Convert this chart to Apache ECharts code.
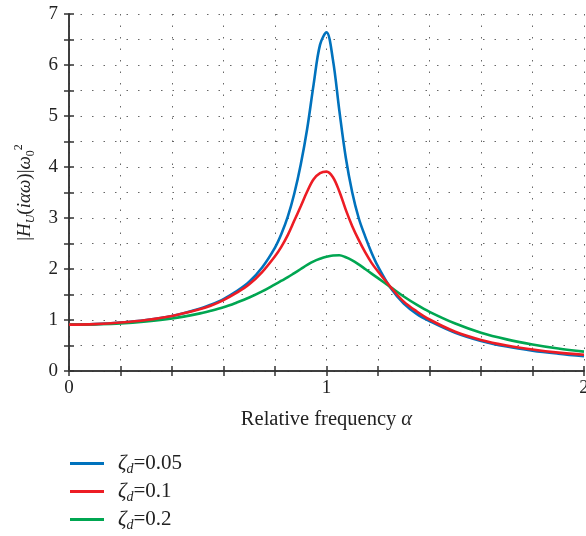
<!DOCTYPE html>
<html>
<head>
<meta charset="utf-8">
<script src="https://cdn.jsdelivr.net/npm/echarts@6/dist/echarts.min.js"></script>
<style>html,body{margin:0;padding:0;background:#fff;}#c{width:586px;height:536px;}</style>
</head>
<body>
<div id="c"></div>
<script>
const alpha = [0, 0.1, 0.2, 0.3, 0.4, 0.5, 0.55, 0.6, 0.65, 0.7, 0.75, 0.8, 0.825, 0.85, 0.875, 0.9, 0.925, 0.95, 0.975, 1.0, 1.025, 1.05, 1.075, 1.1, 1.125, 1.15, 1.175, 1.2, 1.25, 1.3, 1.35, 1.4, 1.5, 1.6, 1.7, 1.8, 1.9, 2.0];
const zeta005 = [0.91, 0.92, 0.95, 1.00, 1.08, 1.21, 1.30, 1.41, 1.56, 1.75, 2.03, 2.42, 2.69, 3.03, 3.48, 4.05, 4.75, 5.62, 6.40, 6.64, 6.10, 5.10, 4.18, 3.50, 3.00, 2.64, 2.32, 2.05, 1.62, 1.32, 1.12, 0.98, 0.75, 0.59, 0.48, 0.40, 0.34, 0.29];
const zeta01 = [0.91, 0.92, 0.95, 1.00, 1.08, 1.20, 1.28, 1.39, 1.53, 1.70, 1.94, 2.25, 2.44, 2.67, 2.95, 3.23, 3.52, 3.76, 3.88, 3.91, 3.80, 3.52, 3.16, 2.84, 2.57, 2.33, 2.12, 1.95, 1.64, 1.36, 1.17, 1.01, 0.77, 0.61, 0.50, 0.42, 0.36, 0.32];
const zeta02 = [0.91, 0.915, 0.93, 0.97, 1.03, 1.12, 1.18, 1.25, 1.34, 1.44, 1.56, 1.70, 1.77, 1.84, 1.92, 2.00, 2.08, 2.15, 2.20, 2.24, 2.265, 2.27, 2.23, 2.17, 2.09, 2.00, 1.91, 1.82, 1.64, 1.46, 1.30, 1.16, 0.93, 0.75, 0.62, 0.52, 0.44, 0.38];
const seriesNames = ['0.05', '0.1', '0.2'];
const seriesValues = [zeta005, zeta01, zeta02];
const colors = ['#0072BD', '#ED1C24', '#00A651'];
const xTickLabels = ['0', '1', '2'];
const yTickLabels = ['0', '1', '2', '3', '4', '5', '6', '7'];

const FONT = 'Liberation Serif';
const isInt = v => Math.abs(v - Math.round(v)) < 1e-6;
const axisLineStyle = {color: '#333', width: 1.5};
const splitStyle = {show: true, lineStyle: {color: '#666', type: [1.5, 10], width: 1}};

const series = seriesValues.map((vals, k) => ({
  name: seriesNames[k],
  type: 'line',
  data: alpha.map((a, i) => [a, vals[i]]),
  showSymbol: false,
  symbol: 'none',
  smooth: 0.35,
  lineStyle: {color: colors[k], width: 2.6},
  itemStyle: {color: colors[k]}
}));
series[0].z = 3; series[2].z = 4; series[1].z = 5;

const legendRich = {
  i: {fontFamily: FONT, fontStyle: 'italic', fontSize: 21, color: '#222'},
  sub: {fontFamily: FONT, fontStyle: 'italic', fontSize: 14, color: '#222', verticalAlign: 'bottom', lineHeight: 16},
  t: {fontFamily: FONT, fontSize: 21, color: '#222'}
};
const legends = seriesNames.map((n, k) => ({
  data: [n],
  left: 70,
  top: 451 + k * 28,
  padding: 0,
  icon: 'rect',
  itemWidth: 34,
  itemHeight: 3,
  formatter: name => '{i|ζ}{sub|d}{t|=' + name + '}',
  textStyle: {padding: [0, 0, 0, 9], rich: legendRich, lineHeight: 25}
}));

const chart = echarts.init(document.getElementById('c'), null, {renderer: 'canvas'});
chart.setOption({
  animation: false,
  backgroundColor: '#fff',
  color: colors,
  legend: legends,
  grid: {left: 69, right: 2, top: 14, bottom: 165, containLabel: false, outerBoundsMode: 'none'},
  xAxis: [{
    type: 'value', min: 0, max: 2, interval: 0.2,
    name: '{t|Relative frequency }{i|α}',
    nameLocation: 'middle', nameGap: 38,
    nameTextStyle: {rich: {
      t: {fontFamily: FONT, fontSize: 20.5, color: '#222'},
      i: {fontFamily: FONT, fontSize: 20.5, fontStyle: 'italic', color: '#222'}
    }},
    axisLine: {show: true, lineStyle: axisLineStyle},
    axisTick: {show: true, inside: true, length: 5, lineStyle: axisLineStyle},
    axisLabel: {
      fontFamily: FONT, fontSize: 19, color: '#222', margin: 8,
      formatter: v => isInt(v) ? xTickLabels[Math.round(v)] : ''
    },
    splitLine: splitStyle
  }, {
    type: 'value', min: 0, max: 2, interval: 0.2, position: 'top',
    axisLine: {show: true, lineStyle: axisLineStyle},
    axisTick: {show: true, inside: true, length: 5, lineStyle: axisLineStyle},
    axisLabel: {show: false}, splitLine: {show: false}
  }],
  yAxis: [{
    type: 'value', min: 0, max: 7, interval: 0.5,
    name: '|{i|H}{sub|U}{t|(}{i|iαω}{t|)|}{i|ω}{sub0|0}{sup|2}',
    nameLocation: 'middle', nameGap: 32,
    nameTextStyle: {fontFamily: FONT, fontSize: 19, color: '#222', lineHeight: 24, rich: {
      t: {fontFamily: FONT, fontSize: 19, color: '#222'},
      i: {fontFamily: FONT, fontSize: 19, fontStyle: 'italic', color: '#222'},
      sub: {fontFamily: FONT, fontSize: 12, fontStyle: 'italic', color: '#222', verticalAlign: 'bottom', lineHeight: 12},
      sub0: {fontFamily: FONT, fontSize: 12, color: '#222', verticalAlign: 'bottom', lineHeight: 12},
      sup: {fontFamily: FONT, fontSize: 12, color: '#222', verticalAlign: 'top', lineHeight: 12}
    }},
    axisLine: {show: true, lineStyle: axisLineStyle},
    axisTick: {show: true, inside: true, length: 5, lineStyle: axisLineStyle},
    axisLabel: {
      fontFamily: FONT, fontSize: 19, color: '#222', margin: 11,
      formatter: v => isInt(v) ? yTickLabels[Math.round(v)] : ''
    },
    splitLine: splitStyle
  }, {
    type: 'value', min: 0, max: 7, interval: 0.5, position: 'right',
    axisLine: {show: true, lineStyle: axisLineStyle},
    axisTick: {show: true, inside: true, length: 5, lineStyle: axisLineStyle},
    axisLabel: {show: false}, splitLine: {show: false}
  }],
  series: series
});
</script>
</body>
</html>
